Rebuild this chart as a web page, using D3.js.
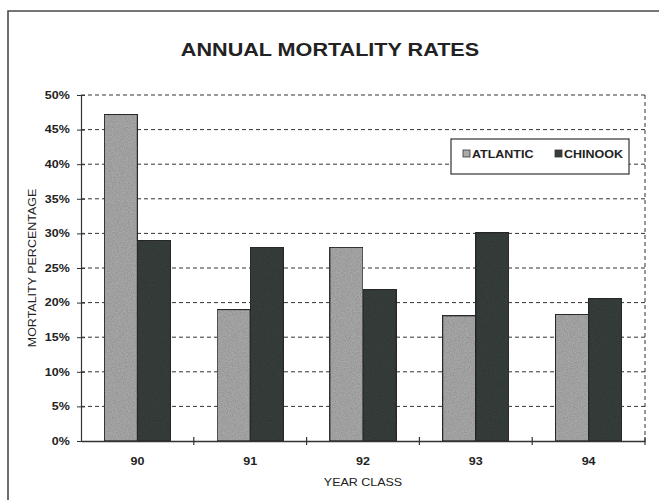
<!DOCTYPE html>
<html>
<head>
<meta charset="utf-8">
<script src="https://cdn.jsdelivr.net/npm/d3@7"></script>
<style>
  html, body { margin: 0; padding: 0; background: #fff; }
  svg { display: block; }
  text { font-family: "Liberation Sans", Arial, sans-serif; fill: #222; }
</style>
</head>
<body>
<svg id="chart" width="659" height="500"></svg>
<script>
// Annual mortality rates by year class, two salmon stocks
const yearClasses = ["90", "91", "92", "93", "94"];
const seriesNames = ["ATLANTIC", "CHINOOK"];
const atlantic = [47.2, 19.0, 28.0, 18.1, 18.3];
const chinook = [29.0, 28.0, 21.9, 30.1, 20.6];
const yTicks = [0, 5, 10, 15, 20, 25, 30, 35, 40, 45, 50];

const colors = { ATLANTIC: "#aaaaaa", CHINOOK: "#373f3c" };
const values = { ATLANTIC: atlantic, CHINOOK: chinook };
const WIDE = 1.25; // horizontal stretch of the lettering

const svg = d3.select("#chart");
const plot = { left: 81, right: 645, top: 95, bottom: 441 };

// Outer frame, open to the right and bottom
svg.append("path")
  .attr("d", "M8,500 L8,11 L659,11")
  .attr("fill", "none")
  .attr("stroke", "#4a4a4a")
  .attr("stroke-width", 1.6);

// Grain texture for the bar fills
const defs = svg.append("defs");
const f = defs.append("filter").attr("id", "grain").attr("x", 0).attr("y", 0).attr("width", 1).attr("height", 1);
f.append("feTurbulence").attr("type", "fractalNoise").attr("baseFrequency", 0.8).attr("numOctaves", 2).attr("seed", 3).attr("result", "noise");
f.append("feColorMatrix").attr("in", "noise").attr("type", "matrix")
  .attr("values", "0 0 0 0 0  0 0 0 0 0  0 0 0 0 0  0 0 0 0.5 -0.12").attr("result", "dots");
f.append("feComposite").attr("in", "dots").attr("in2", "SourceGraphic").attr("operator", "atop").attr("result", "d2");
f.append("feMerge").selectAll("feMergeNode").data(["SourceGraphic", "d2"]).join("feMergeNode").attr("in", d => d);

const x = d3.scaleBand().domain(yearClasses).range([plot.left, plot.right]).paddingInner(0).paddingOuter(0);
const inner = d3.scaleBand().domain(seriesNames).range([0, x.bandwidth()]).paddingOuter(0.7).paddingInner(0);
const y = d3.scaleLinear().domain([0, 50]).range([plot.bottom, plot.top]);

// Dashed gridlines and the dashed right border
const grid = svg.append("g");
grid.selectAll("line.h").data(yTicks.filter(t => t > 0)).join("line")
  .attr("x1", plot.left).attr("x2", plot.right)
  .attr("y1", d => y(d)).attr("y2", d => y(d))
  .attr("stroke", "#333").attr("stroke-width", 1).attr("stroke-dasharray", "4,3");
grid.append("line")
  .attr("x1", plot.right).attr("x2", plot.right)
  .attr("y1", plot.top).attr("y2", plot.bottom)
  .attr("stroke", "#333").attr("stroke-width", 1).attr("stroke-dasharray", "4,3");

// Bars
const groups = svg.append("g").selectAll("g").data(yearClasses).join("g")
  .attr("transform", d => `translate(${x(d)},0)`);
groups.selectAll("rect")
  .data((d, i) => seriesNames.map(s => ({ s, v: values[s][i] })))
  .join("rect")
  .attr("x", d => inner(d.s))
  .attr("width", inner.bandwidth())
  .attr("y", d => y(d.v))
  .attr("height", d => y(0) - y(d.v))
  .attr("fill", d => colors[d.s])
  .attr("filter", "url(#grain)")
  .attr("stroke", "#2a2a2a").attr("stroke-width", 1.2);

// Y axis
const yAxis = svg.append("g").attr("transform", `translate(${plot.left},0)`)
  .call(d3.axisLeft(y).tickValues(yTicks).tickFormat(d => d + "%").tickSize(4).tickPadding(5));
yAxis.selectAll(".tick line").attr("x1", -4).attr("x2", 4).attr("stroke", "#333");
yAxis.select(".domain").attr("stroke", "#333").attr("stroke-width", 1.2);
yAxis.selectAll("text").attr("font-size", 10).attr("font-weight", "bold").attr("fill", "#333")
  .attr("transform", `scale(${WIDE},1)`)
  .style("font-family", '"Liberation Sans", Arial, sans-serif');

// X axis with ticks at category boundaries
const xAxis = svg.append("g").attr("transform", `translate(0,${plot.bottom})`)
  .call(d3.axisBottom(x).tickSize(0).tickPadding(17));
xAxis.select(".domain").attr("stroke", "#333").attr("stroke-width", 1.4);
xAxis.selectAll("text").attr("font-size", 10).attr("font-weight", "bold").attr("fill", "#333")
  .attr("transform", `scale(${WIDE},1)`)
  .style("font-family", '"Liberation Sans", Arial, sans-serif');
xAxis.selectAll("line.bound").data(yearClasses.map(d => x(d)).concat([plot.right]).slice(1)).join("line")
  .attr("class", "bound")
  .attr("x1", d => d).attr("x2", d => d).attr("y1", -4).attr("y2", 4)
  .attr("stroke", "#333").attr("stroke-width", 1.2);

// Titles
svg.append("text").attr("transform", `translate(330,56) scale(1.2,1)`).attr("text-anchor", "middle")
  .attr("font-size", 18).attr("font-weight", "bold").attr("fill", "#111")
  .text("ANNUAL MORTALITY RATES");
svg.append("text").attr("transform", `translate(${(plot.left + plot.right) / 2},486) scale(${WIDE},1)`)
  .attr("text-anchor", "middle")
  .attr("font-size", 10).attr("fill", "#333").text("YEAR CLASS");
svg.append("text").attr("transform", `translate(36,${(plot.top + plot.bottom) / 2}) rotate(-90) scale(${WIDE},1)`)
  .attr("text-anchor", "middle").attr("font-size", 10).attr("fill", "#333")
  .text("MORTALITY PERCENTAGE");

// Legend
const legend = svg.append("g");
legend.append("rect").attr("x", 451).attr("y", 139).attr("width", 178).attr("height", 35)
  .attr("fill", "#fff").attr("stroke", "#333").attr("stroke-width", 1.2);
const items = legend.selectAll("g.item").data(seriesNames).join("g")
  .attr("transform", (d, i) => `translate(${i === 0 ? 463 : 555},154)`);
items.append("rect").attr("x", 0).attr("y", -4).attr("width", 7).attr("height", 7)
  .attr("fill", d => colors[d]).attr("stroke", "#333").attr("stroke-width", 0.8);
items.append("text").attr("transform", `translate(9,4) scale(${WIDE},1)`)
  .attr("font-size", 10).attr("font-weight", "bold")
  .attr("fill", "#333").text(d => d);
</script>
</body>
</html>
